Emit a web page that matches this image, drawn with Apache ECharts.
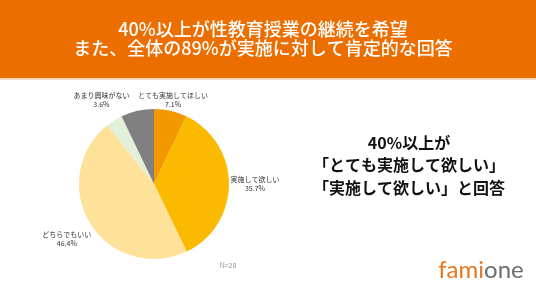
<!DOCTYPE html>
<html><head><meta charset="utf-8">
<script src="https://cdn.jsdelivr.net/npm/echarts@6/dist/echarts.min.js"></script>
<style>html,body{margin:0;padding:0;background:#fff}#c{width:536px;height:281px}</style>
</head><body><div id="c"></div>
<script>
const categories = ['とても実施してほしい', '実施して欲しい', 'どちらでもいい', 'あまり興味がない', 'その他'];
const values = [7.1, 35.7, 46.4, 3.6, 7.1];
const sliceColors = ['#F39800', '#FBBA00', '#FFE29A', '#E2EFD9', '#808080'];
const showLabel = [true, true, true, true, false];
const labelDist = [86, 101, 103, 99, 90];
const titleLines = ['40%以上が性教育授業の継続を希望', 'また、全体の89%が実施に対して肯定的な回答'];
const noteLines = ['40%以上が', '「とても実施して欲しい」', '「実施して欲しい」と回答'];
const sampleNote = 'N=28';

const CX = 154, CY = 184, R = 75;
const total = values.reduce((a, b) => a + b, 0);
const chart = echarts.init(document.getElementById('c'));
const font = '"Noto Sans CJK JP", "Noto Sans", sans-serif';
chart.setOption({
  backgroundColor: '#fff',
  animation: false,
  graphic: [
    { type: 'rect', left: 0, top: 0, shape: { width: 536, height: 78 }, style: { fill: '#EC6D00' } },
    { type: 'rect', left: 0, top: 78, shape: { width: 536, height: 2 }, style: { fill: '#FBD9BE' } },
    { type: 'text', x: 263, y: 39, style: { text: titleLines.join('\n'), fill: '#fff', font: '500 18px ' + font, lineHeight: 19, align: 'center', verticalAlign: 'middle' } },
    { type: 'text', x: 409, y: 165, style: { text: noteLines.join('\n'), fill: '#111', font: 'bold 16px ' + font, lineHeight: 22.5, align: 'center', verticalAlign: 'middle' } },
    { type: 'text', x: 228, y: 265, style: { text: sampleNote, fill: '#999', font: '7px ' + font, align: 'center', verticalAlign: 'middle' } },
    { type: 'text', x: 481, y: 270, style: {
        text: '{a|fami}{b|one}', align: 'center', verticalAlign: 'middle',
        rich: {
          a: { fill: '#E8771E', fontSize: 24, fontFamily: 'Lato, sans-serif' },
          b: { fill: '#6E6E6E', fontSize: 24, fontFamily: 'Lato, sans-serif' }
        } } }
  ],
  series: [{
    type: 'pie',
    center: [CX, CY],
    radius: [0, R],
    startAngle: 90,
    clockwise: true,
    data: categories.map((n, i) => ({ name: n, value: values[i], itemStyle: { color: sliceColors[i] },
      label: { show: showLabel[i] } })),
    label: {
      position: 'outside',
      overflow: 'none',
      formatter: p => p.name + '\n' + p.value.toFixed(1) + '%',
      color: '#333', fontSize: 7, lineHeight: 9, fontFamily: font
    },
    labelLine: { show: false },
    labelLayout: function (params) {
      const i = params.dataIndex;
      let before = 0;
      for (let k = 0; k < i; k++) before += values[k];
      const mid = (before + values[i] / 2) / total * Math.PI * 2;
      return {
        x: CX + labelDist[i] * Math.sin(mid),
        y: CY - labelDist[i] * Math.cos(mid),
        align: 'center', verticalAlign: 'middle'
      };
    },
    emphasis: { disabled: true }
  }]
});
</script></body></html>
